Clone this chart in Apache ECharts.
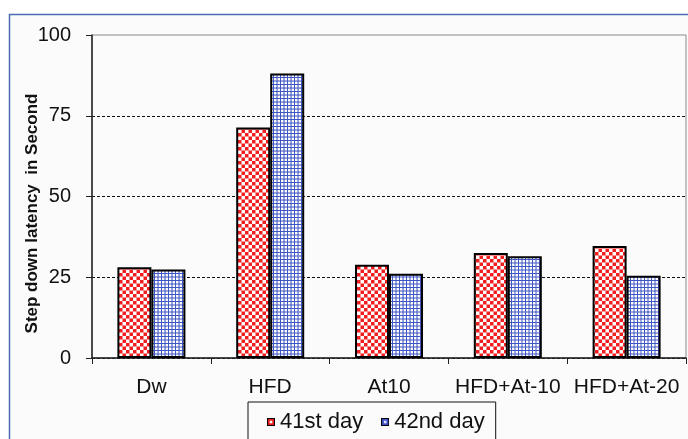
<!DOCTYPE html>
<html>
<head>
<meta charset="utf-8">
<style>
  html, body { margin: 0; padding: 0; background: #ffffff; }
  #chart { width: 688px; height: 439px; }
</style>
<script src="https://cdn.jsdelivr.net/npm/echarts@6/dist/echarts.min.js"></script>
</head>
<body>
<div id="chart"></div>
<script>
// Step down latency per group, on two consecutive test days
const categories = ['Dw', 'HFD', 'At10', 'HFD+At-10', 'HFD+At-20'];
const day41 = [28.1, 71.4, 28.9, 32.5, 34.7];
const day42 = [27.4, 88.1, 26.1, 31.5, 25.5];
const seriesNames = ['41st day', '42nd day'];
const yTicks = [0, 25, 50, 75, 100];
const yTitle = 'Step down latency  in Second';

const FONT = 'Liberation Sans, Arial, sans-serif';

// Red/white checkerboard tile (drawn at 2x, scaled down in the pattern)
function checkerTile() {
  const c = document.createElement('canvas');
  c.width = 14; c.height = 14;
  const g = c.getContext('2d');
  g.fillStyle = '#ffffff';
  g.fillRect(0, 0, 14, 14);
  g.fillStyle = '#f01e1e';
  g.fillRect(0, 0, 7, 7);
  g.fillRect(7, 7, 7, 7);
  return c;
}

// Blue grid-on-white tile (drawn at 2x, scaled down in the pattern)
function gridTile() {
  const c = document.createElement('canvas');
  c.width = 7; c.height = 7;
  const g = c.getContext('2d');
  g.fillStyle = '#ffffff';
  g.fillRect(0, 0, 7, 7);
  g.fillStyle = '#4055c4';
  g.fillRect(0, 0, 7, 2);
  g.fillRect(0, 0, 2, 7);
  return c;
}

// Small legend swatch: black outline, coloured ring, pale centre
function swatch(ring, centre) {
  const c = document.createElement('canvas');
  c.width = 9; c.height = 9;
  const g = c.getContext('2d');
  g.fillStyle = '#000000';
  g.fillRect(0, 0, 9, 9);
  g.fillStyle = ring;
  g.fillRect(1, 1, 7, 7);
  g.fillStyle = centre;
  g.fillRect(3, 3, 3, 3);
  return 'image://' + c.toDataURL();
}

const redPattern = { image: checkerTile(), repeat: 'repeat', scaleX: 0.5, scaleY: 0.5 };
const bluePattern = { image: gridTile(), repeat: 'repeat', scaleX: 0.5, scaleY: 0.5 };

const chart = echarts.init(document.getElementById('chart'), null, { renderer: 'canvas' });

chart.setOption({
  backgroundColor: 'transparent',
  animation: false,
  textStyle: { fontFamily: FONT },
  graphic: [
    {
      type: 'rect',
      z: -100,
      silent: true,
      shape: { x: 9.5, y: 14.5, width: 700, height: 440 },
      style: { fill: '#fbfbfb', stroke: '#4a6cb3', lineWidth: 1.5 }
    },
    {
      type: 'text',
      x: 32,
      y: 213.5,
      rotation: Math.PI / 2,
      silent: true,
      style: {
        text: yTitle,
        fontFamily: FONT,
        fontSize: 17,
        fontWeight: 'bold',
        fill: '#111111',
        textAlign: 'center',
        textVerticalAlign: 'middle'
      }
    }
  ],
  grid: {
    left: 92,
    right: 2,
    top: 35,
    bottom: 81,
    show: true,
    backgroundColor: 'transparent',
    borderColor: '#8a8a8a',
    borderWidth: 1
  },
  legend: {
    left: 248,
    top: 402,
    orient: 'horizontal',
    data: [
      { name: seriesNames[0], icon: swatch('#e51c1c', '#ffffff') },
      { name: seriesNames[1], icon: swatch('#3c50c0', '#dfe3ff') }
    ],
    itemWidth: 8,
    itemHeight: 8,
    itemGap: 18,
    padding: [9, 11, 30, 19],
    borderColor: '#111111',
    borderWidth: 1,
    backgroundColor: '#fbfbfb',
    textStyle: { fontFamily: FONT, fontSize: 22, color: '#111111' }
  },
  xAxis: {
    type: 'category',
    data: categories,
    axisLine: { lineStyle: { color: '#222222', width: 1.5 } },
    axisTick: { show: true, alignWithLabel: false, length: 6, lineStyle: { color: '#222222', width: 1 } },
    axisLabel: { fontFamily: FONT, fontSize: 21, color: '#111111', margin: 19, interval: 0 },
    splitLine: { show: false }
  },
  yAxis: {
    type: 'value',
    min: yTicks[0],
    max: yTicks[yTicks.length - 1],
    interval: yTicks[1] - yTicks[0],
    axisLine: { show: true, lineStyle: { color: '#222222', width: 1.5 } },
    axisTick: { show: true, inside: false, length: 6, lineStyle: { color: '#222222', width: 1 } },
    axisLabel: { fontFamily: FONT, fontSize: 20, color: '#111111', margin: 21 },
    splitLine: {
      show: true,
      showMaxLine: false,
      lineStyle: { color: '#111111', type: [3, 2], width: 1 }
    }
  },
  series: [
    {
      name: seriesNames[0],
      type: 'bar',
      data: day41,
      barWidth: 34,
      barGap: '0%',
      itemStyle: { color: redPattern, borderColor: '#000000', borderWidth: 2 }
    },
    {
      name: seriesNames[1],
      type: 'bar',
      data: day42,
      barWidth: 34,
      barGap: '0%',
      itemStyle: { color: bluePattern, borderColor: '#000000', borderWidth: 2 }
    }
  ]
});
</script>
</body>
</html>
